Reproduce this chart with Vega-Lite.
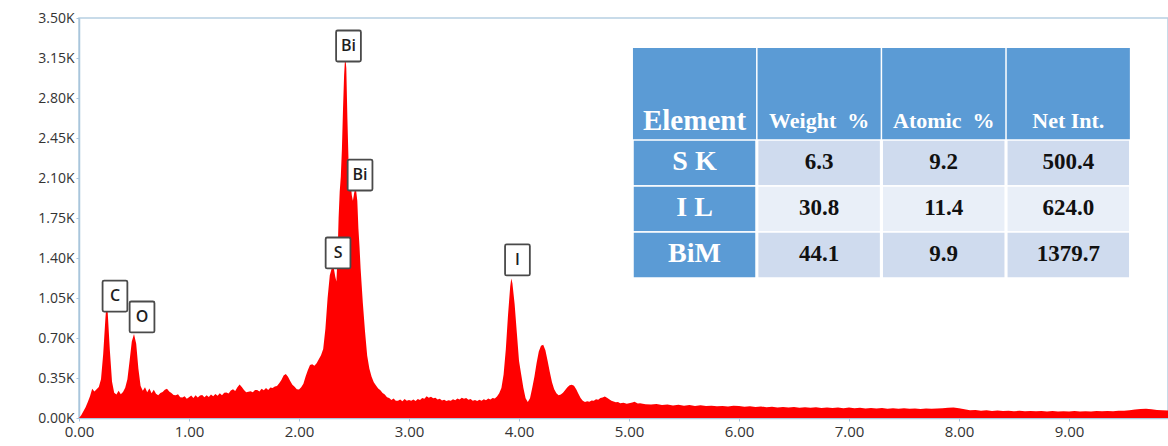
{
  "$schema": "https://vega.github.io/schema/vega-lite/v6.json",
  "width": 1089,
  "height": 400,
  "autosize": {"type": "none"},
  "padding": {"left": 79, "top": 18, "right": 0, "bottom": 28},
  "background": "white",
  "config": {"view": {"stroke": "#b7cfe2", "strokeWidth": 1.5}, "font": "Open Sans", "axis": {"labelOverlap": false}, "axisY": {"labelOverlap": false}},
  "datasets": {
    "spectrum": [
      {"keV":0.00,"counts":0},{"keV":0.02,"counts":25},{"keV":0.04,"counts":60},{"keV":0.06,"counts":95},{"keV":0.08,"counts":140},
      {"keV":0.10,"counts":190},{"keV":0.12,"counts":255},{"keV":0.14,"counts":232},{"keV":0.16,"counts":252},{"keV":0.18,"counts":272},
      {"keV":0.20,"counts":340},{"keV":0.22,"counts":560},{"keV":0.24,"counts":870},{"keV":0.25,"counts":1000},{"keV":0.26,"counts":940},
      {"keV":0.28,"counts":600},{"keV":0.30,"counts":320},{"keV":0.32,"counts":222},{"keV":0.34,"counts":206},{"keV":0.36,"counts":238},
      {"keV":0.38,"counts":208},{"keV":0.40,"counts":228},{"keV":0.42,"counts":265},{"keV":0.44,"counts":340},{"keV":0.46,"counts":500},
      {"keV":0.48,"counts":670},{"keV":0.50,"counts":735},{"keV":0.52,"counts":650},{"keV":0.54,"counts":430},{"keV":0.56,"counts":280},
      {"keV":0.58,"counts":238},{"keV":0.60,"counts":268},{"keV":0.62,"counts":226},{"keV":0.64,"counts":258},{"keV":0.66,"counts":216},
      {"keV":0.68,"counts":248},{"keV":0.70,"counts":212},{"keV":0.72,"counts":198},{"keV":0.74,"counts":218},{"keV":0.76,"counts":228},
      {"keV":0.78,"counts":248},{"keV":0.80,"counts":256},{"keV":0.82,"counts":232},{"keV":0.84,"counts":218},{"keV":0.86,"counts":202},
      {"keV":0.88,"counts":198},{"keV":0.90,"counts":208},{"keV":0.92,"counts":182},{"keV":0.94,"counts":180},{"keV":0.96,"counts":190},
      {"keV":0.98,"counts":168},{"keV":1.00,"counts":182},{"keV":1.02,"counts":196},{"keV":1.04,"counts":174},{"keV":1.06,"counts":198},
      {"keV":1.08,"counts":180},{"keV":1.10,"counts":196},{"keV":1.12,"counts":202},{"keV":1.14,"counts":182},{"keV":1.16,"counts":200},
      {"keV":1.18,"counts":184},{"keV":1.20,"counts":206},{"keV":1.22,"counts":190},{"keV":1.24,"counts":210},{"keV":1.26,"counts":194},
      {"keV":1.28,"counts":216},{"keV":1.30,"counts":200},{"keV":1.32,"counts":220},{"keV":1.34,"counts":224},{"keV":1.36,"counts":214},
      {"keV":1.38,"counts":240},{"keV":1.40,"counts":252},{"keV":1.42,"counts":236},{"keV":1.44,"counts":270},{"keV":1.46,"counts":294},
      {"keV":1.48,"counts":272},{"keV":1.50,"counts":244},{"keV":1.52,"counts":226},{"keV":1.54,"counts":230},{"keV":1.56,"counts":234},
      {"keV":1.58,"counts":226},{"keV":1.60,"counts":246},{"keV":1.62,"counts":244},{"keV":1.64,"counts":232},{"keV":1.66,"counts":256},
      {"keV":1.68,"counts":242},{"keV":1.70,"counts":262},{"keV":1.72,"counts":246},{"keV":1.74,"counts":266},{"keV":1.76,"counts":262},
      {"keV":1.78,"counts":276},{"keV":1.80,"counts":280},{"keV":1.82,"counts":304},{"keV":1.84,"counts":332},{"keV":1.86,"counts":372},
      {"keV":1.88,"counts":384},{"keV":1.90,"counts":360},{"keV":1.92,"counts":324},{"keV":1.94,"counts":290},{"keV":1.96,"counts":274},
      {"keV":1.98,"counts":252},{"keV":2.00,"counts":250},{"keV":2.02,"counts":268},{"keV":2.04,"counts":300},{"keV":2.06,"counts":364},
      {"keV":2.08,"counts":418},{"keV":2.10,"counts":464},{"keV":2.12,"counts":470},{"keV":2.14,"counts":458},{"keV":2.16,"counts":480},
      {"keV":2.18,"counts":514},{"keV":2.20,"counts":550},{"keV":2.22,"counts":604},{"keV":2.24,"counts":780},{"keV":2.26,"counts":1050},
      {"keV":2.28,"counts":1250},{"keV":2.30,"counts":1320},{"keV":2.31,"counts":1350},{"keV":2.32,"counts":1290},{"keV":2.33,"counts":1235},
      {"keV":2.34,"counts":1195},{"keV":2.35,"counts":1400},{"keV":2.36,"counts":1750},{"keV":2.37,"counts":1980},{"keV":2.38,"counts":2110},
      {"keV":2.39,"counts":2350},{"keV":2.40,"counts":2700},{"keV":2.41,"counts":3000},{"keV":2.42,"counts":3170},{"keV":2.43,"counts":3060},
      {"keV":2.44,"counts":2620},{"keV":2.45,"counts":2260},{"keV":2.46,"counts":2210},{"keV":2.47,"counts":2060},{"keV":2.48,"counts":1950},
      {"keV":2.49,"counts":1900},{"keV":2.50,"counts":1960},{"keV":2.51,"counts":2010},{"keV":2.52,"counts":1985},{"keV":2.53,"counts":1900},
      {"keV":2.54,"counts":1660},{"keV":2.55,"counts":1500},{"keV":2.56,"counts":1310},{"keV":2.57,"counts":1160},{"keV":2.58,"counts":1010},
      {"keV":2.60,"counts":760},{"keV":2.62,"counts":545},{"keV":2.64,"counts":430},{"keV":2.66,"counts":362},{"keV":2.68,"counts":312},
      {"keV":2.70,"counts":284},{"keV":2.72,"counts":258},{"keV":2.74,"counts":242},{"keV":2.76,"counts":218},{"keV":2.78,"counts":206},
      {"keV":2.80,"counts":182},{"keV":2.82,"counts":176},{"keV":2.84,"counts":158},{"keV":2.86,"counts":170},{"keV":2.88,"counts":150},
      {"keV":2.90,"counts":150},{"keV":2.92,"counts":162},{"keV":2.94,"counts":146},{"keV":2.96,"counts":166},{"keV":2.98,"counts":150},
      {"keV":3.00,"counts":158},{"keV":3.02,"counts":150},{"keV":3.04,"counts":162},{"keV":3.06,"counts":148},{"keV":3.08,"counts":166},
      {"keV":3.10,"counts":158},{"keV":3.12,"counts":176},{"keV":3.14,"counts":168},{"keV":3.16,"counts":190},{"keV":3.18,"counts":178},
      {"keV":3.20,"counts":186},{"keV":3.22,"counts":172},{"keV":3.24,"counts":178},{"keV":3.26,"counts":162},{"keV":3.28,"counts":168},
      {"keV":3.30,"counts":154},{"keV":3.32,"counts":160},{"keV":3.34,"counts":148},{"keV":3.36,"counts":156},{"keV":3.38,"counts":150},
      {"keV":3.40,"counts":164},{"keV":3.42,"counts":156},{"keV":3.44,"counts":170},{"keV":3.46,"counts":162},{"keV":3.48,"counts":178},
      {"keV":3.50,"counts":168},{"keV":3.52,"counts":174},{"keV":3.54,"counts":160},{"keV":3.56,"counts":166},{"keV":3.58,"counts":152},
      {"keV":3.60,"counts":158},{"keV":3.62,"counts":148},{"keV":3.64,"counts":160},{"keV":3.66,"counts":152},{"keV":3.68,"counts":164},
      {"keV":3.70,"counts":156},{"keV":3.72,"counts":170},{"keV":3.74,"counts":162},{"keV":3.76,"counts":176},{"keV":3.78,"counts":170},
      {"keV":3.80,"counts":188},{"keV":3.82,"counts":216},{"keV":3.84,"counts":262},{"keV":3.86,"counts":380},{"keV":3.88,"counts":600},
      {"keV":3.90,"counts":900},{"keV":3.92,"counts":1150},{"keV":3.93,"counts":1220},{"keV":3.94,"counts":1180},{"keV":3.96,"counts":1000},
      {"keV":3.98,"counts":750},{"keV":4.00,"counts":500},{"keV":4.02,"counts":380},{"keV":4.04,"counts":262},{"keV":4.06,"counts":172},
      {"keV":4.08,"counts":140},{"keV":4.10,"counts":172},{"keV":4.12,"counts":262},{"keV":4.14,"counts":362},{"keV":4.16,"counts":482},
      {"keV":4.18,"counts":582},{"keV":4.20,"counts":632},{"keV":4.22,"counts":642},{"keV":4.24,"counts":592},{"keV":4.26,"counts":502},
      {"keV":4.28,"counts":402},{"keV":4.30,"counts":312},{"keV":4.32,"counts":252},{"keV":4.34,"counts":216},{"keV":4.36,"counts":200},
      {"keV":4.38,"counts":206},{"keV":4.40,"counts":222},{"keV":4.42,"counts":246},{"keV":4.44,"counts":270},{"keV":4.46,"counts":286},
      {"keV":4.48,"counts":292},{"keV":4.50,"counts":282},{"keV":4.52,"counts":252},{"keV":4.54,"counts":212},{"keV":4.56,"counts":176},
      {"keV":4.58,"counts":152},{"keV":4.60,"counts":140},{"keV":4.62,"counts":146},{"keV":4.64,"counts":142},{"keV":4.66,"counts":154},
      {"keV":4.68,"counts":150},{"keV":4.70,"counts":164},{"keV":4.72,"counts":160},{"keV":4.74,"counts":174},{"keV":4.76,"counts":180},
      {"keV":4.78,"counts":188},{"keV":4.80,"counts":178},{"keV":4.82,"counts":164},{"keV":4.84,"counts":150},{"keV":4.86,"counts":144},
      {"keV":4.88,"counts":138},{"keV":4.90,"counts":140},{"keV":4.92,"counts":130},{"keV":4.95,"counts":134},{"keV":4.98,"counts":124},
      {"keV":5.00,"counts":128},{"keV":5.03,"counts":136},{"keV":5.05,"counts":142},{"keV":5.08,"counts":126},{"keV":5.10,"counts":130},
      {"keV":5.15,"counts":120},{"keV":5.20,"counts":118},{"keV":5.25,"counts":123},{"keV":5.30,"counts":113},{"keV":5.35,"counts":118},
      {"keV":5.40,"counts":110},{"keV":5.45,"counts":116},{"keV":5.50,"counts":108},{"keV":5.55,"counts":113},{"keV":5.60,"counts":106},
      {"keV":5.65,"counts":111},{"keV":5.70,"counts":104},{"keV":5.75,"counts":108},{"keV":5.80,"counts":102},{"keV":5.85,"counts":106},
      {"keV":5.90,"counts":100},{"keV":5.95,"counts":108},{"keV":6.00,"counts":104},{"keV":6.05,"counts":98},{"keV":6.10,"counts":103},
      {"keV":6.15,"counts":96},{"keV":6.20,"counts":101},{"keV":6.25,"counts":94},{"keV":6.30,"counts":99},{"keV":6.35,"counts":92},
      {"keV":6.40,"counts":97},{"keV":6.45,"counts":91},{"keV":6.50,"counts":96},{"keV":6.55,"counts":90},{"keV":6.60,"counts":94},
      {"keV":6.65,"counts":89},{"keV":6.70,"counts":93},{"keV":6.75,"counts":88},{"keV":6.80,"counts":92},{"keV":6.85,"counts":87},
      {"keV":6.90,"counts":91},{"keV":6.95,"counts":86},{"keV":7.00,"counts":92},{"keV":7.05,"counts":86},{"keV":7.10,"counts":89},
      {"keV":7.15,"counts":84},{"keV":7.20,"counts":88},{"keV":7.25,"counts":83},{"keV":7.30,"counts":87},{"keV":7.35,"counts":82},
      {"keV":7.40,"counts":86},{"keV":7.45,"counts":81},{"keV":7.50,"counts":85},{"keV":7.55,"counts":80},{"keV":7.60,"counts":84},
      {"keV":7.65,"counts":79},{"keV":7.70,"counts":83},{"keV":7.75,"counts":80},{"keV":7.80,"counts":84},{"keV":7.85,"counts":86},
      {"keV":7.90,"counts":90},{"keV":7.95,"counts":92},{"keV":8.00,"counts":86},{"keV":8.05,"counts":76},{"keV":8.10,"counts":68},
      {"keV":8.15,"counts":70},{"keV":8.20,"counts":64},{"keV":8.25,"counts":67},{"keV":8.30,"counts":62},{"keV":8.35,"counts":66},
      {"keV":8.40,"counts":61},{"keV":8.45,"counts":64},{"keV":8.50,"counts":59},{"keV":8.55,"counts":63},{"keV":8.60,"counts":58},
      {"keV":8.65,"counts":62},{"keV":8.70,"counts":58},{"keV":8.75,"counts":62},{"keV":8.80,"counts":57},{"keV":8.85,"counts":61},
      {"keV":8.90,"counts":56},{"keV":8.95,"counts":60},{"keV":9.00,"counts":57},{"keV":9.05,"counts":61},{"keV":9.10,"counts":56},
      {"keV":9.15,"counts":60},{"keV":9.20,"counts":57},{"keV":9.25,"counts":61},{"keV":9.30,"counts":58},{"keV":9.35,"counts":62},
      {"keV":9.40,"counts":60},{"keV":9.45,"counts":64},{"keV":9.50,"counts":63},{"keV":9.55,"counts":68},{"keV":9.60,"counts":74},
      {"keV":9.65,"counts":79},{"keV":9.70,"counts":82},{"keV":9.75,"counts":77},{"keV":9.80,"counts":71},{"keV":9.85,"counts":68},
      {"keV":9.90,"counts":66}
    ],
    "peaks": [
      {"element":"C","keV":0.327,"counts":1067},
      {"element":"O","keV":0.573,"counts":884},
      {"element":"S","keV":2.355,"counts":1444},
      {"element":"Bi","keV":2.45,"counts":3255},
      {"element":"Bi","keV":2.555,"counts":2126},
      {"element":"I","keV":3.986,"counts":1383}
    ],
    "cells": [
      {"row":"top","col":"Element","shade":"blue","kind":"none","text":""},
      {"row":"top","col":"Weight %","shade":"blue","kind":"none","text":""},
      {"row":"top","col":"Atomic %","shade":"blue","kind":"none","text":""},
      {"row":"top","col":"Net Int.","shade":"blue","kind":"none","text":""},
      {"row":"head","col":"Element","shade":"blue","kind":"title","text":"Element"},
      {"row":"head","col":"Weight %","shade":"blue","kind":"head","text":"Weight\u00a0 %"},
      {"row":"head","col":"Atomic %","shade":"blue","kind":"head","text":"Atomic\u00a0 %"},
      {"row":"head","col":"Net Int.","shade":"blue","kind":"head","text":"Net Int."},
      {"row":"S K","col":"Element","shade":"blue","kind":"label","text":"S K"},
      {"row":"S K","col":"Weight %","shade":"mid","kind":"value","text":"6.3"},
      {"row":"S K","col":"Atomic %","shade":"mid","kind":"value","text":"9.2"},
      {"row":"S K","col":"Net Int.","shade":"mid","kind":"value","text":"500.4"},
      {"row":"I L","col":"Element","shade":"blue","kind":"label","text":"I L"},
      {"row":"I L","col":"Weight %","shade":"light","kind":"value","text":"30.8"},
      {"row":"I L","col":"Atomic %","shade":"light","kind":"value","text":"11.4"},
      {"row":"I L","col":"Net Int.","shade":"light","kind":"value","text":"624.0"},
      {"row":"BiM","col":"Element","shade":"blue","kind":"label","text":"BiM"},
      {"row":"BiM","col":"Weight %","shade":"mid","kind":"value","text":"44.1"},
      {"row":"BiM","col":"Atomic %","shade":"mid","kind":"value","text":"9.9"},
      {"row":"BiM","col":"Net Int.","shade":"mid","kind":"value","text":"1379.7"}
    ]
  },
  "layer": [
    {
      "encoding": {
        "x": {
          "field": "keV", "type": "quantitative",
          "scale": {"domain": [0, 9.9], "nice": false, "zero": false},
          "axis": {
            "title": null, "grid": false, "values": [0,1,2,3,4,5,6,7,8,9], "format": ".2f",
            "labelFlush": false, "labelFontSize": 15, "labelColor": "#333333", "labelFont": "Open Sans",
            "domainColor": "#a9c5dc", "domainWidth": 1.5, "tickColor": "#a9c5dc", "tickSize": 3, "labelPadding": 3
          }
        },
        "y": {
          "field": "counts", "type": "quantitative",
          "scale": {"domain": [0, 3500], "nice": false},
          "axis": {
            "title": null, "grid": false,
            "values": [0,350,700,1050,1400,1750,2100,2450,2800,3150,3500],
            "labelExpr": "format(datum.value/1000, '.2f') + 'K'",
            "labelFontSize": 14, "labelColor": "#333333", "labelFont": "Open Sans", "labelFontWeight": 500, "labelOverlap": false, "labelBound": false,
            "domainColor": "#a9c5dc", "domainWidth": 1.5, "tickColor": "#a9c5dc", "tickSize": 3, "labelPadding": 2
          }
        }
      },
      "layer": [
        {
          "data": {"name": "spectrum"},
          "mark": {"type": "area", "color": "#ff0000", "interpolate": "linear", "opacity": 1}
        },
        {
          "data": {"name": "peaks"},
          "mark": {
            "type": "point",
            "shape": "M-0.7,-1 L0.7,-1 Q0.8,-1 0.8,-0.9 L0.8,0.9 Q0.8,1 0.7,1 L-0.7,1 Q-0.8,1 -0.8,0.9 L-0.8,-0.9 Q-0.8,-1 -0.7,-1 Z",
            "size": 960, "filled": true, "fill": "white", "stroke": "#4a4a4a", "strokeWidth": 1.8, "opacity": 1
          }
        },
        {
          "data": {"name": "peaks"},
          "mark": {"type": "text", "fontSize": 16, "font": "Open Sans", "fontWeight": 600, "color": "#1e1e1e", "baseline": "middle", "align": "center"},
          "encoding": {"text": {"field": "element"}}
        }
      ]
    },
    {
      "data": {"name": "cells"},
      "encoding": {
        "x": {
          "field": "col", "type": "nominal",
          "scale": {"type": "band", "domain": ["g1","g2","g3","g4","Element","Weight %","Atomic %","Net Int."], "paddingInner": 0.012, "paddingOuter": 0.376, "align": 0.593},
          "axis": null
        },
        "y": {
          "field": "row", "type": "nominal",
          "scale": {"type": "band", "domain": ["top","head","S K","I L","BiM","g1","g2","g3"], "paddingInner": 0, "paddingOuter": 0.348, "align": 0.9375},
          "axis": null
        }
      },
      "layer": [
        {
          "transform": [{"filter": "datum.row === 'top' || datum.row === 'head'"}],
          "mark": {"type": "rect"},
          "encoding": {
            "fill": {"field": "shade", "type": "nominal", "scale": {"domain": ["blue","mid","light"], "range": ["#5b9bd5","#cfdbee","#e9eff8"]}, "legend": null}
          }
        },
        {
          "transform": [{"filter": "datum.row !== 'top' && datum.row !== 'head'"}],
          "mark": {"type": "rect", "stroke": "white", "strokeWidth": 1.6},
          "encoding": {
            "fill": {"field": "shade", "type": "nominal", "scale": {"domain": ["blue","mid","light"], "range": ["#5b9bd5","#cfdbee","#e9eff8"]}, "legend": null}
          }
        },
        {
          "transform": [{"filter": "datum.row === 'head'"}],
          "mark": {"type": "text", "font": "Liberation Serif", "fontWeight": "bold", "baseline": "middle", "align": "center", "dy": 4, "color": "#ffffff"},
          "encoding": {
            "text": {"field": "text"},
            "size": {"field": "kind", "type": "nominal", "scale": {"type": "ordinal", "domain": ["title","head"], "range": [29, 22]}, "legend": null}
          }
        },
        {
          "transform": [{"filter": "datum.row !== 'head' && datum.row !== 'top'"}],
          "mark": {"type": "text", "font": "Liberation Serif", "fontWeight": "bold", "baseline": "middle", "align": "center", "dy": -1},
          "encoding": {
            "text": {"field": "text"},
            "color": {"field": "kind", "type": "nominal", "scale": {"type": "ordinal", "domain": ["label","value"], "range": ["#ffffff","#111111"]}, "legend": null},
            "size": {"field": "kind", "type": "nominal", "scale": {"type": "ordinal", "domain": ["label","value"], "range": [28, 23]}, "legend": null}
          }
        }
      ],
      "resolve": {"scale": {"size": "independent", "color": "independent"}}
    }
  ],
  "resolve": {"scale": {"x": "independent", "y": "independent"}, "axis": {"x": "independent", "y": "independent"}}
}
